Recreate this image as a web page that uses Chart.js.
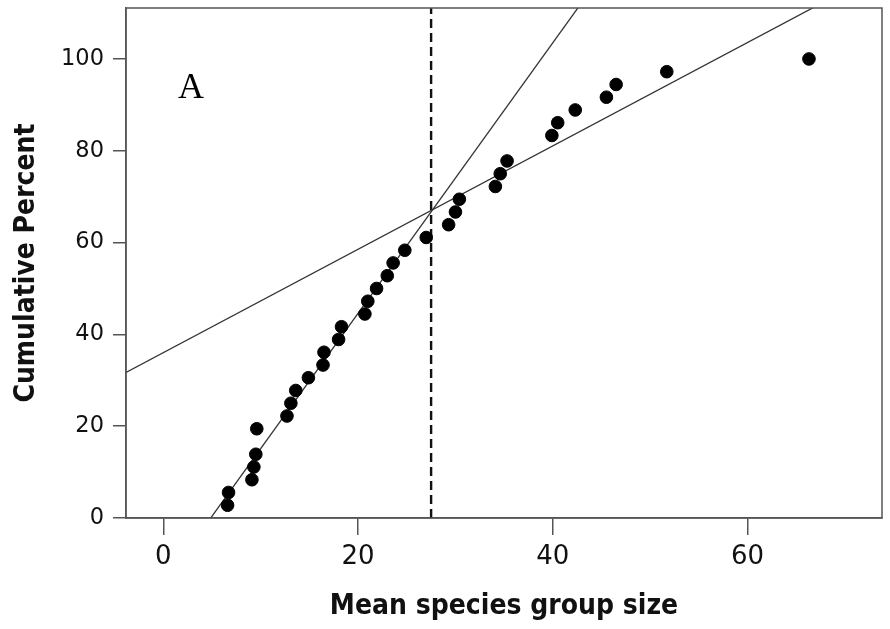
<!DOCTYPE html>
<html>
<head>
<meta charset="utf-8">
<script src="https://cdn.jsdelivr.net/npm/chart.js@4.4.0/dist/chart.umd.min.js"></script>
<style>
    html, body { margin: 0; padding: 0; background: #fff; }
    #chart { display: block; }
</style>
</head>
<body>
<canvas id="chart" width="890" height="629"></canvas>
<script>
// Cumulative percent of species by mean group size
const groupSize = [6.6, 6.7, 9.1, 9.3, 9.5, 9.6, 12.7, 13.1, 13.6, 14.9, 16.4, 16.5, 18.0, 18.3,
    20.7, 21.0, 21.9, 23.0, 23.6, 24.8, 27.0, 29.3, 30.0, 30.4, 34.1, 34.6, 35.3,
    39.9, 40.5, 42.3, 45.5, 46.5, 51.7, 66.3];
const cumPercent = [2.78, 5.56, 8.33, 11.11, 13.89, 19.44, 22.22, 25.0, 27.78, 30.56, 33.33, 36.11, 38.89, 41.67,
    44.44, 47.22, 50.0, 52.78, 55.56, 58.33, 61.11, 63.89, 66.67, 69.44, 72.22, 75.0, 77.78,
    83.33, 86.11, 88.89, 91.67, 94.44, 97.22, 100];

// Two fitted regression lines (steep lower segment, shallow upper segment)
const fitSlopes = [2.947, 1.126];
const fitIntercepts = [-14.35, 36.03];

// Breakpoint marked by the dashed vertical line
const breakPoint = 27.5;

const xTicks = [0, 20, 40, 60];
const yTicks = [0, 20, 40, 60, 80, 100];
const xRange = [-3.83, 73.8];
const yRange = [0, 111.1];

const axisColor = '#555555';

const points = groupSize.map((x, i) => ({ x: x, y: cumPercent[i] }));

const fitDatasets = fitSlopes.map((m, i) => ({
    type: 'line',
    data: xRange.map(x => ({ x: x, y: m * x + fitIntercepts[i] })),
    borderColor: '#333333',
    borderWidth: 1.3,
    pointRadius: 0,
    fill: false,
    order: 2
}));

// Frame round the plot area and the panel letter
const framePlugin = {
    id: 'frame',
    afterDraw(chart) {
        const { ctx, chartArea } = chart;
        ctx.save();
        ctx.strokeStyle = axisColor;
        ctx.lineWidth = 1.5;
        ctx.strokeRect(chartArea.left, chartArea.top, chartArea.right - chartArea.left, chartArea.bottom - chartArea.top);
        ctx.fillStyle = '#000';
        ctx.font = '36px "Liberation Serif", serif';
        ctx.textBaseline = 'alphabetic';
        ctx.fillText('A', chartArea.left + 52, chartArea.top + 90);
        ctx.restore();
    }
};

new Chart(document.getElementById('chart'), {
    type: 'scatter',
    data: {
        datasets: [
            {
                data: points,
                backgroundColor: '#000',
                borderColor: '#000',
                pointRadius: 6.3,
                pointHoverRadius: 6.3,
                order: 1
            },
            ...fitDatasets,
            {
                type: 'line',
                data: [{ x: breakPoint, y: yRange[0] }, { x: breakPoint, y: yRange[1] }],
                borderColor: '#111',
                borderWidth: 2.4,
                borderDash: [9, 5],
                pointRadius: 0,
                fill: false,
                order: 3
            }
        ]
    },
    options: {
        responsive: false,
        animation: false,
        layout: { padding: { left: 0, top: 8, right: 8, bottom: 0 } },
        plugins: {
            legend: { display: false },
            tooltip: { enabled: false }
        },
        scales: {
            x: {
                type: 'linear',
                min: xRange[0],
                max: xRange[1],
                afterBuildTicks: scale => { scale.ticks = xTicks.map(v => ({ value: v })); },
                afterFit: scale => {
                    scale.height = 111;
                    scale.paddingLeft = 0;
                    scale.paddingRight = 0;
                },
                grid: { drawOnChartArea: false, drawTicks: true, tickLength: 17, color: axisColor, lineWidth: 1.5 },
                border: { display: true, color: axisColor, width: 1.5 },
                ticks: {
                    color: '#111',
                    padding: 7,
                    font: { family: '"DejaVu Sans", sans-serif', size: 26 }
                },
                title: {
                    display: true,
                    text: 'Mean species group size',
                    color: '#111',
                    padding: { top: 0, bottom: 5 },
                    font: { family: '"DejaVu Sans Condensed", "DejaVu Sans", sans-serif', size: 28, weight: 'bold' }
                }
            },
            y: {
                type: 'linear',
                min: yRange[0],
                max: yRange[1],
                afterBuildTicks: scale => { scale.ticks = yTicks.map(v => ({ value: v })); },
                afterFit: scale => {
                    scale.width = 126;
                    scale.paddingTop = 0;
                    scale.paddingBottom = 0;
                },
                grid: { drawOnChartArea: false, drawTicks: true, tickLength: 13, color: axisColor, lineWidth: 1.5 },
                border: { display: true, color: axisColor, width: 1.5 },
                ticks: {
                    color: '#111',
                    padding: 9,
                    font: { family: '"DejaVu Sans", sans-serif', size: 22.5 }
                },
                title: {
                    display: true,
                    text: 'Cumulative Percent',
                    color: '#111',
                    padding: { top: 10, bottom: 0 },
                    font: { family: '"DejaVu Sans Condensed", "DejaVu Sans", sans-serif', size: 28, weight: 'bold' }
                }
            }
        }
    },
    plugins: [framePlugin]
});
</script>
</body>
</html>
